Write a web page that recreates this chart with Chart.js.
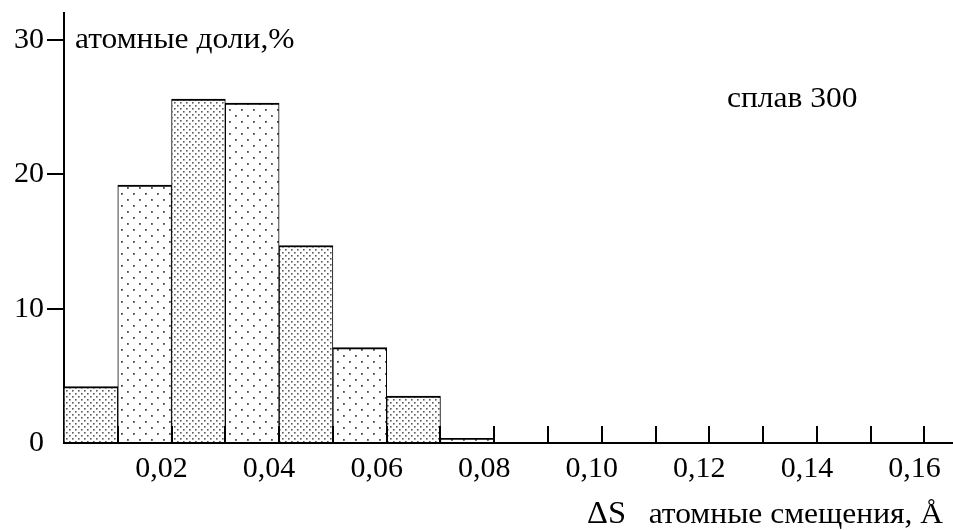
<!DOCTYPE html>
<html>
<head>
<meta charset="utf-8">
<script src="https://cdn.jsdelivr.net/npm/chart.js@4"></script>
<style>
  html, body { margin: 0; padding: 0; background: #fff; }
  #wrap { width: 953px; height: 530px; position: relative; }
</style>
</head>
<body>
<div id="wrap"><canvas id="c"></canvas></div>
<script>
// Histogram bins: left edge of each bin and the common bin width
const binLeft = [0.00, 0.01, 0.02, 0.03, 0.04, 0.05, 0.06, 0.07];
const binWidth = 0.01;
// Atomic fraction per bin, %
const atomShare = [4.2, 19.2, 25.6, 25.3, 14.7, 7.1, 3.5, 0.35];

// Axis ticks
const xTickValues = [0.01, 0.02, 0.03, 0.04, 0.05, 0.06, 0.07, 0.08,
                     0.09, 0.10, 0.11, 0.12, 0.13, 0.14, 0.15, 0.16];
const xTickLabels = ['', '0,02', '', '0,04', '', '0,06', '', '0,08',
                     '', '0,10', '', '0,12', '', '0,14', '', '0,16'];
const yTickValues = [0, 10, 20, 30];
const yTickLabels = ['0', '10', '20', '30'];

// Texts
const yAxisTitle = 'атомные доли,%';
const xAxisSymbol = 'ΔS';
const xAxisTitle = 'атомные смещения, Å';
const panelNote = 'сплав 300';

const FONT = '"Liberation Serif", "Times New Roman", serif';

const canvas = document.getElementById('c');
const ctx = canvas.getContext('2d');

// Stippled fills: a dense and a sparse dot screen, alternating bin by bin
function dotPattern(size, dots, color, dot) {
  const t = document.createElement('canvas');
  t.width = size; t.height = size;
  const g = t.getContext('2d');
  g.fillStyle = '#fff';
  g.fillRect(0, 0, size, size);
  g.fillStyle = color;
  dots.forEach(([x, y]) => g.fillRect(x, y, dot, dot));
  return ctx.createPattern(t, 'repeat');
}
const denseDots = dotPattern(6, [[0, 0], [3, 3]], '#5a5a5a', 1.6);
const sparseDots = dotPattern(12, [[1, 1], [7, 7]], '#4a4a4a', 1.8);

const binData = binLeft.map((l, i) => ({ x: l + binWidth / 2, y: atomShare[i] }));

// Slightly widened serif text
function wideText(ctx, text, x, y, size, align) {
  const sx = 1.05;
  ctx.save();
  ctx.font = size + 'px ' + FONT;
  ctx.textAlign = 'left';
  ctx.textBaseline = 'alphabetic';
  const w = ctx.measureText(text).width * sx;
  ctx.translate(align === 'right' ? x - w : x, y);
  ctx.scale(sx, 1);
  ctx.fillText(text, 0, 0);
  ctx.restore();
}

// Annotations and inward x ticks
const decorations = {
  id: 'decorations',
  afterDatasetsDraw(chart) {
    const { ctx, chartArea, scales } = chart;
    const xs = scales.x;
    ctx.save();
    ctx.strokeStyle = '#000';
    ctx.lineWidth = 2;
    xTickValues.forEach(v => {
      const px = Math.round(xs.getPixelForValue(v));
      ctx.beginPath();
      ctx.moveTo(px, chartArea.bottom);
      ctx.lineTo(px, chartArea.bottom - 17);
      ctx.stroke();
    });
    ctx.restore();
  },
  afterDraw(chart) {
    const { ctx, chartArea, scales } = chart;
    const ys = scales.y;
    ctx.save();
    ctx.fillStyle = '#000';
    // y-axis caption beside the top tick
    wideText(ctx, yAxisTitle, chartArea.left + 11, ys.getPixelForValue(30) + 8, 30, 'left');
    // sample note
    wideText(ctx, panelNote, 727, 107, 30, 'left');
    // x-axis caption
    wideText(ctx, xAxisSymbol, 587, 523, 31, 'left');
    wideText(ctx, xAxisTitle, 943, 523, 30, 'right');
    ctx.restore();
  }
};

new Chart(canvas, {
  type: 'bar',
  data: {
    datasets: [{
      data: binData,
      backgroundColor: binData.map((_, i) => (i % 2 === 0 ? denseDots : sparseDots)),
      borderColor: '#000',
      borderWidth: { top: 2, left: 1, right: 1, bottom: 0 },
      borderSkipped: false,
      barPercentage: 1,
      categoryPercentage: 1
    }]
  },
  options: {
    responsive: true,
    maintainAspectRatio: false,
    animation: false,
    devicePixelRatio: 1,
    layout: { padding: { top: 13, left: 0, right: 0, bottom: 0 } },
    plugins: {
      legend: { display: false },
      tooltip: { enabled: false },
      title: { display: false }
    },
    scales: {
      x: {
        type: 'linear',
        offset: false,
        min: 0,
        max: 0.1653,
        afterBuildTicks: axis => { axis.ticks = xTickValues.map(v => ({ value: v })); },
        afterFit: axis => { axis.height = 87; axis.paddingLeft = 0; axis.paddingRight = 0; },
        grid: { display: false },
        border: { display: true, color: '#000', width: 2 },
        ticks: {
          autoSkip: false,
          maxRotation: 0,
          padding: 0,
          labelOffset: -10,
          color: '#000',
          font: { family: FONT, size: 30 },
          callback: (v, i) => xTickLabels[i]
        }
      },
      y: {
        min: 0,
        max: 32,
        afterBuildTicks: axis => { axis.ticks = yTickValues.map(v => ({ value: v })); },
        afterFit: axis => { axis.width = 64; axis.paddingTop = 0; axis.paddingBottom = 0; },
        grid: {
          drawOnChartArea: false,
          drawTicks: true,
          tickLength: 17,
          lineWidth: 2,
          color: c => (c.tick && c.tick.value === 0 ? 'rgba(0,0,0,0)' : '#000')
        },
        border: { display: true, color: '#000', width: 2 },
        ticks: {
          padding: 3,
          color: '#000',
          font: { family: FONT, size: 30 },
          callback: (v, i) => yTickLabels[i]
        }
      }
    }
  },
  plugins: [decorations]
});
</script>
</body>
</html>
